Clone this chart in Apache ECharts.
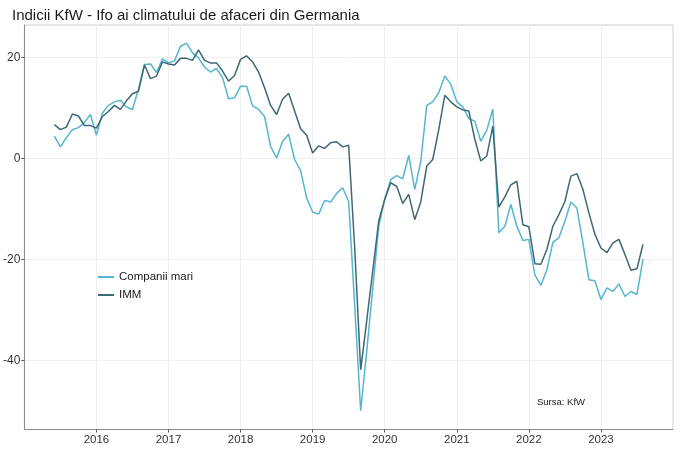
<!DOCTYPE html>
<html>
<head>
<meta charset="utf-8">
<script src="https://cdn.jsdelivr.net/npm/echarts@6/dist/echarts.min.js"></script>
<style>
html,body{margin:0;padding:0;background:#fff;}
#c{width:700px;height:455px;}
</style>
</head>
<body>
<div id="c"></div>
<script>
// First month of the series (picture positions): June 2015, monthly
var startYear = 2015;
var startMonth = 6;
var seriesNames = ['Companii mari', 'IMM'];
var companiiMari = [4.4,2.3,4.1,5.7,6.1,7.1,8.7,4.6,9.0,10.5,11.2,11.5,10.2,9.7,13.7,18.6,18.7,17.0,19.7,18.9,19.3,22.2,22.8,20.9,19.9,18.1,17.1,17.8,16.0,11.8,12.0,14.3,14.3,10.4,9.7,8.3,2.4,0.1,3.4,4.8,-0.2,-2.4,-7.8,-10.6,-11.0,-8.3,-8.6,-6.9,-5.8,-8.5,-29.0,-49.9,-38.2,-25.9,-13.4,-8.1,-4.2,-3.4,-4.0,0.6,-6.1,-0.6,10.5,11.2,13.0,16.3,14.7,11.2,10.2,7.9,7.4,3.4,5.6,9.8,-14.7,-13.4,-9.1,-13.4,-16.2,-16.0,-23.0,-25.1,-22.0,-16.6,-15.7,-12.4,-8.6,-9.8,-16.7,-24.0,-24.2,-27.9,-25.6,-26.3,-24.8,-27.3,-26.3,-26.9,-19.9];
var imm = [6.7,5.7,6.2,8.8,8.4,6.5,6.5,6.0,8.3,9.3,10.5,9.7,11.4,12.8,13.3,18.5,15.8,16.3,19.1,18.7,18.5,19.8,19.8,19.4,21.5,19.4,18.9,18.9,17.3,15.3,16.4,19.6,20.3,19.1,17.1,14.0,10.5,8.7,11.7,12.9,9.4,5.9,4.6,1.1,2.5,2.0,3.1,3.3,2.3,2.6,-17.6,-41.8,-32.1,-22.3,-12.4,-8.1,-4.8,-5.5,-8.9,-7.1,-12.1,-8.6,-1.5,-0.2,5.7,12.5,11.2,10.2,9.6,9.4,3.8,-0.5,0.5,6.4,-9.6,-7.6,-5.2,-4.5,-13.1,-13.5,-20.8,-20.9,-18.0,-13.4,-11.1,-8.5,-3.5,-3.0,-6.1,-10.8,-15.0,-17.7,-18.6,-16.7,-16.0,-19.0,-22.1,-21.8,-17.0];
var yearTicks = [2016,2017,2018,2019,2020,2021,2022,2023];
var yTicks = [-40,-20,0,20];

function toPoints(vals){
  return vals.map(function(v,i){
    return [startYear + (startMonth - 1 + i)/12, v];
  });
}

var chart = echarts.init(document.getElementById('c'), null, {renderer:'canvas'});
var font = 'Liberation Sans, Arial, sans-serif';
chart.setOption({
  animation:false,
  backgroundColor:'#fff',
  title:{
    text:'Indicii KfW - Ifo ai climatului de afaceri din Germania',
    left:7, top:3,
    textStyle:{fontFamily:font, fontSize:15, fontWeight:'normal', color:'#1a1a1a'}
  },
  grid:{left:23, right:27, top:25, bottom:25.5, show:true, borderColor:'#cfcfcf', borderWidth:1, backgroundColor:'#fff'},
  legend:{
    orient:'vertical', left:93, top:266, itemWidth:16, itemHeight:2, itemGap:6, icon:'rect',
    textStyle:{fontFamily:font, fontSize:11.5, color:'#1a1a1a', padding:[0,0,0,0]},
    data:seriesNames
  },
  graphic:[{
    type:'text', left:537, top:397,
    style:{text:'Sursa: KfW', font:'9.5px Liberation Sans, Arial, sans-serif', fill:'#1a1a1a'}
  }],
  xAxis:{
    type:'value', min:2015, max:2024, interval:1,
    axisLine:{show:true, onZero:false, lineStyle:{color:'#8c8c8c', width:1}},
    axisTick:{show:true, length:3, lineStyle:{color:'#555'}, customValues:yearTicks},
    axisLabel:{fontFamily:font, fontSize:11.5, color:'#333', margin:4, customValues:yearTicks,
      formatter:function(v){ return String(Math.round(v)); }},
    splitLine:{show:true, lineStyle:{color:'#f0f0f0', width:1}}
  },
  yAxis:{
    type:'value', min:-53.6, max:26.4,
    interval:20,
    axisLine:{show:true, lineStyle:{color:'#8c8c8c', width:1}},
    axisTick:{show:true, length:3, lineStyle:{color:'#555'}, customValues:yTicks},
    axisLabel:{fontFamily:font, fontSize:12, color:'#333', margin:4, customValues:yTicks,
      formatter:function(v){ return String(v); }},
    splitLine:{show:true, lineStyle:{color:'#f0f0f0', width:1}}
  },
  series:[
    {name:seriesNames[0], type:'line', data:toPoints(companiiMari), symbol:'none',
      lineStyle:{color:'#55b5d2', width:1.5}, itemStyle:{color:'#55b5d2'}, z:2},
    {name:seriesNames[1], type:'line', data:toPoints(imm), symbol:'none',
      lineStyle:{color:'#3e6873', width:1.5}, itemStyle:{color:'#3e6873'}, z:3}
  ]
});
</script>
</body>
</html>
